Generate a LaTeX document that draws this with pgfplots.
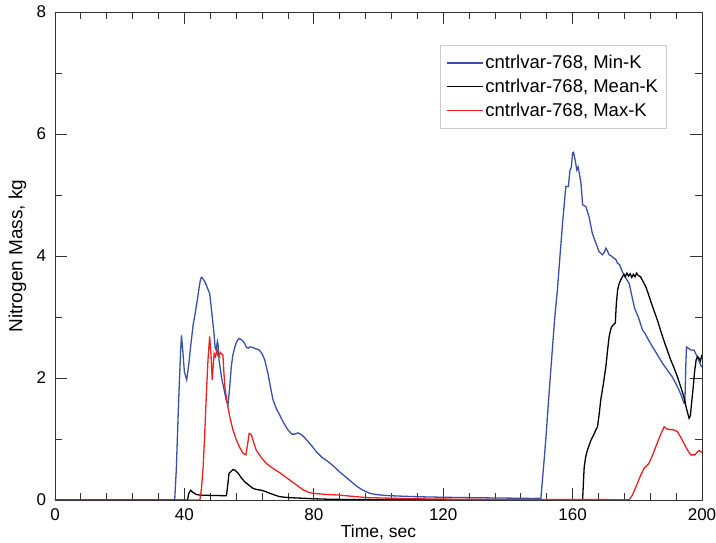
\documentclass[border=0pt]{standalone}
\usepackage{fontspec}
\setmainfont{Liberation Sans}
\usepackage{pgfplots}
\pgfplotsset{compat=1.18}
\definecolor{minK}{RGB}{58,80,168}
\definecolor{maxK}{RGB}{240,32,32}
\begin{document}
\begin{tikzpicture}
\path[use as bounding box] (-55pt,-43pt) rectangle (661pt,500pt);
\begin{axis}[
  at={(0pt,0pt)}, anchor=south west,
  scale only axis, width=647pt, height=488pt,
  xmin=0, xmax=200, ymin=0, ymax=8,
  xtick={0,40,...,200}, ytick={0,2,...,8},
  minor x tick num=4, minor y tick num=1,
  tick align=inside,
  major tick length=12pt, minor tick length=7pt,
  axis line style={line width=0.8pt, black!80},
  every tick/.style={black!80, line width=0.8pt},
  tick label style={font=\fontsize{17}{20}\selectfont},
  /pgf/number format/assume math mode=true,
  xticklabel style={yshift=-5.5pt},
  yticklabel style={xshift=-5.5pt},
  xlabel={Time, sec},
  ylabel={Nitrogen Mass, kg},
  xlabel style={font=\fontsize{17.5}{20}\selectfont, at={(axis description cs:0.5,0)}, anchor=north, yshift=-25pt, inner sep=0pt},
  ylabel style={font=\fontsize{19}{22}\selectfont, at={(axis description cs:-0.058,0.5)}, anchor=center, inner sep=0pt},
  legend style={at={(rel axis cs:0.945,0.932)}, anchor=north east, draw=gray!40, line width=0.6pt,
    font=\fontsize{18.5}{22}\selectfont, row sep=5pt, inner xsep=6pt, inner ysep=8pt},
  legend cell align=left,
  legend image code/.code={\draw[#1, line width=1.3pt] (0pt,0pt) -- (32pt,0pt); \path (0pt,0pt) -- (36pt,0pt);},
  every axis plot/.append style={line width=1.3pt},
]
\addplot[minK] coordinates {
(0,0) (37,0) (37.5,0.5) (38.2,1.6) (38.8,2.4) (39.1,2.70) (39.5,2.45) (40.0,2.1) (40.7,1.97) (41.3,2.2) (42.0,2.55) (42.7,2.87) (43.3,3.05) (44.0,3.28) (44.6,3.5) (45.0,3.62) (45.3,3.65) (45.8,3.62) (46.3,3.58) (46.8,3.52) (47.3,3.45) (47.8,3.39) (48.1,3.25) (48.4,3.11) (48.8,2.9) (49.1,2.76) (49.5,2.5) (49.8,2.46) (50.2,2.6) (50.4,2.55) (50.7,2.30) (51.5,2.0) (52.5,1.75) (53.0,1.62) (53.5,1.57) (54.0,1.85) (54.5,2.19) (55.0,2.38) (55.6,2.51) (56.2,2.6) (56.9,2.65) (57.8,2.62) (58.6,2.57) (59.2,2.50) (59.7,2.49) (60.3,2.51) (61.2,2.50) (62.0,2.48) (63.1,2.46) (64.0,2.40) (64.8,2.30) (65.8,2.08) (66.5,1.88) (67.4,1.64) (68.4,1.50) (69.4,1.40) (70.5,1.28) (72.0,1.15) (73.2,1.08) (74.1,1.08) (75.1,1.10) (76.2,1.07) (77.2,1.02) (78.2,0.96) (79.5,0.88) (80.8,0.79) (82.5,0.70) (84.4,0.63) (86.2,0.55) (88.0,0.46) (89.8,0.38) (91.6,0.30) (93.4,0.22) (95.2,0.16) (97.3,0.11) (99.3,0.09) (102,0.075) (105.5,0.066) (110,0.057) (115,0.05) (120.9,0.044) (130,0.037) (141.4,0.03) (148,0.025) (150.2,0.03) (150.8,0.4) (151.7,0.98) (152.8,1.8) (153.8,2.51) (154.5,3.0) (155.3,3.44) (156.1,4.0) (156.9,4.54) (157.5,4.9) (157.9,5.14) (158.7,5.14) (159.2,5.41) (159.6,5.45) (160.0,5.69) (160.3,5.7) (160.8,5.57) (161.3,5.41) (161.7,5.46) (162.1,5.35) (162.6,5.19) (163.1,4.84) (164.1,4.81) (165.1,4.64) (166.1,4.37) (167.2,4.21) (168.2,4.07) (169.2,4.02) (169.8,4.06) (170.3,4.13) (170.8,4.08) (171.3,4.02) (172.0,4.0) (172.8,3.96) (173.3,3.95) (173.9,3.88) (174.5,3.86) (175.4,3.74) (176.3,3.65) (177.5,3.55) (178.5,3.3) (179.2,3.14) (180.3,3.0) (181.6,2.79) (182.5,2.72) (183.5,2.62) (184.7,2.51) (186,2.4) (187.8,2.24) (189,2.15) (190.8,2.02) (192,1.9) (192.9,1.80) (193.7,1.7) (194.4,1.59) (194.7,1.58) (195.0,2.2) (195.2,2.51) (196,2.48) (196.5,2.46) (197.5,2.46) (198.5,2.35) (199.6,2.21) (200,2.18)
};
\addlegendentry{cntrlvar-768, Min-K}
\addplot[black] coordinates {
(0,0) (41.0,0) (41.3,0.1) (41.9,0.16) (42.5,0.13) (43.7,0.09) (45,0.08) (48,0.075) (51,0.072) (53.0,0.07) (53.3,0.2) (53.8,0.44) (54.3,0.46) (55.0,0.50) (55.6,0.49) (56.6,0.44) (57.5,0.37) (58.6,0.30) (60,0.24) (61.2,0.19) (62.5,0.17) (63.8,0.16) (65,0.14) (66.4,0.11) (68,0.08) (69.4,0.055) (72,0.04) (76,0.03) (80,0.02) (85,0.012) (90,0.008) (100,0.005) (163.1,0.005) (163.4,0.35) (163.6,0.55) (164.1,0.72) (164.6,0.82) (165.6,0.97) (166.7,1.09) (167.2,1.15) (167.7,1.20) (168.2,1.4) (168.7,1.64) (169.5,1.9) (170.3,2.19) (170.8,2.45) (171.3,2.68) (171.8,2.8) (172.1,2.84) (172.7,2.88) (173.2,2.90) (173.5,3.2) (173.9,3.44) (174.4,3.55) (174.9,3.61) (175.4,3.66) (175.9,3.70) (176.3,3.66) (176.8,3.72) (177.3,3.67) (177.8,3.71) (178.3,3.65) (178.8,3.70) (179.3,3.66) (179.8,3.72) (180.3,3.68) (181.0,3.66) (181.8,3.58) (182.6,3.50) (183.4,3.38) (184.2,3.25) (185.2,3.1) (186.2,2.95) (187.2,2.78) (188.3,2.60) (189.3,2.45) (190.3,2.30) (191.4,2.16) (192.4,2.02) (193.4,1.86) (194.4,1.69) (195.2,1.5) (196.0,1.34) (196.4,1.38) (196.8,1.6) (197.2,1.80) (197.7,2.1) (198.2,2.30) (198.7,2.35) (199.1,2.32) (199.5,2.28) (200,2.38)
};
\addlegendentry{cntrlvar-768, Mean-K}
\addplot[maxK] coordinates {
(0,0) (44.8,0) (45.3,0.2) (45.8,0.55) (46.3,1.1) (46.8,1.75) (47.3,2.3) (47.8,2.68) (48.2,2.4) (48.6,1.97) (48.9,2.2) (49.2,2.40) (49.6,2.35) (50.1,2.46) (50.4,2.36) (50.7,2.35) (51.1,2.42) (51.4,2.40) (51.9,2.38) (52.2,2.1) (52.5,1.86) (53.2,1.6) (54.0,1.37) (55.0,1.15) (56.1,0.98) (57.1,0.86) (58.1,0.77) (59.0,0.74) (59.5,0.9) (60.0,1.09) (60.7,1.07) (61.5,0.93) (62.2,0.82) (63.7,0.70) (65.3,0.60) (67.3,0.52) (69.4,0.45) (71.2,0.38) (73,0.31) (74.8,0.24) (76.6,0.17) (78.2,0.13) (79.7,0.11) (84,0.09) (88,0.08) (92,0.06) (96.2,0.04) (103,0.03) (110.6,0.02) (130,0.01) (177.5,0.005) (178.5,0.08) (180,0.27) (181,0.4) (182.1,0.52) (183.6,0.60) (184.6,0.72) (185.7,0.87) (186.5,0.98) (187.2,1.07) (188.3,1.20) (189,1.17) (190.3,1.15) (191.3,1.15) (192.4,1.12) (193.4,1.03) (194.4,0.93) (195.5,0.82) (196.5,0.74) (197.8,0.74) (198.6,0.79) (199.1,0.81) (200,0.78)
};
\addlegendentry{cntrlvar-768, Max-K}
\end{axis}
\end{tikzpicture}
\end{document}
